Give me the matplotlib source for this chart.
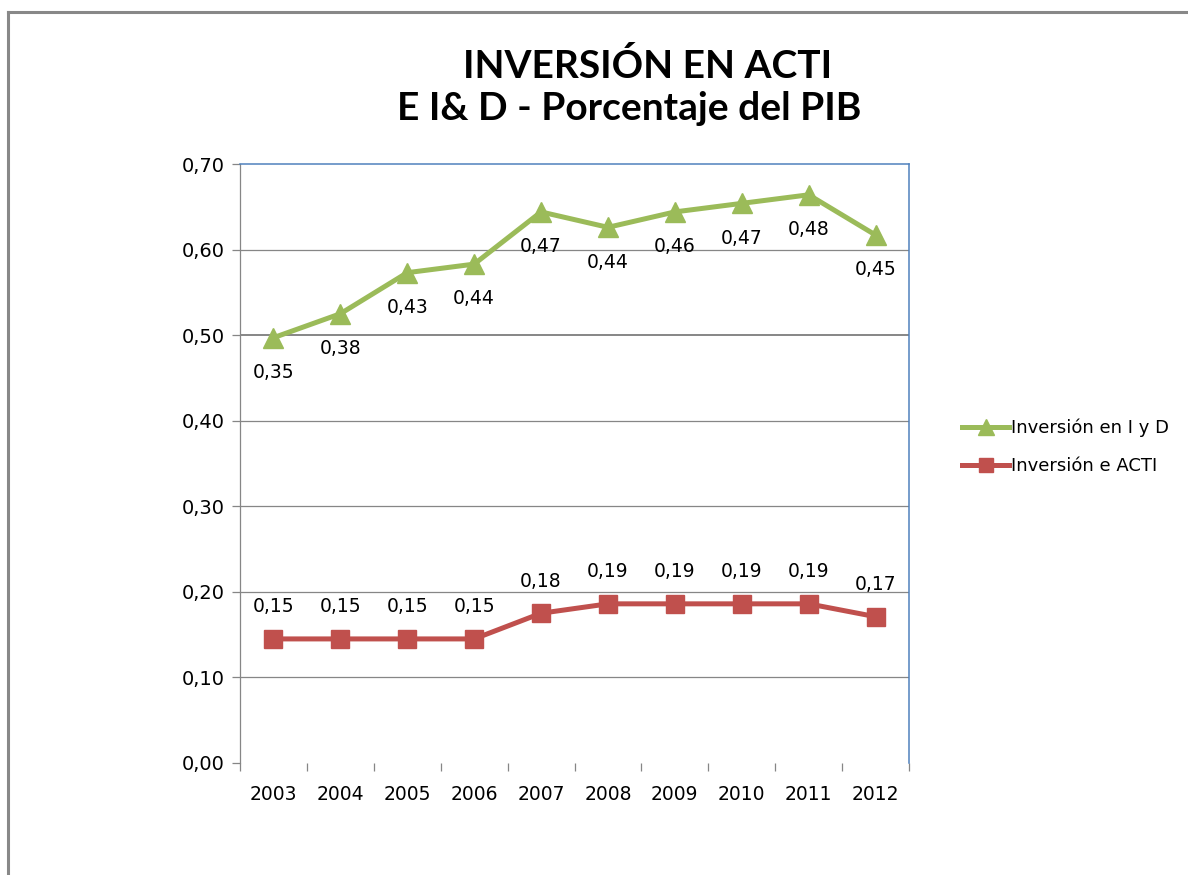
import matplotlib.pyplot as plt
from matplotlib.lines import Line2D

years = ["2003", "2004", "2005", "2006", "2007", "2008", "2009", "2010", "2011", "2012"]

# plotted positions (as drawn in the original)
id_vals = [0.497, 0.525, 0.573, 0.583, 0.644, 0.626, 0.644, 0.654, 0.664, 0.617]
acti_vals = [0.145, 0.145, 0.145, 0.145, 0.175, 0.186, 0.186, 0.186, 0.186, 0.171]

# data labels as printed in the original
id_labels = [0.35, 0.38, 0.43, 0.44, 0.47, 0.44, 0.46, 0.47, 0.48, 0.45]
acti_labels = [0.15, 0.15, 0.15, 0.15, 0.18, 0.19, 0.19, 0.19, 0.19, 0.17]

yticks = [0.0, 0.1, 0.2, 0.3, 0.4, 0.5, 0.6, 0.7]

green = "#9BBB59"
red = "#C0504D"
grid_c = "#868686"
blue = "#4F81BD"

plt.rcParams["font.family"] = ["DejaVu Sans"]

fig = plt.figure(figsize=(11.88, 8.75), dpi=100)
W, H = 1188, 875
ax = fig.add_axes([240 / W, 1 - 763 / H, (909 - 240) / W, (763 - 164) / H])

x = list(range(len(years)))

for v in yticks[1:-1]:
    ax.axhline(v, color=grid_c, lw=1.4 if v == 0.5 else 0.9, zorder=1)

ax.plot(x, id_vals, color=green, lw=3.6, marker="^", markersize=14,
        label="Inversión en I y D", zorder=3)
ax.plot(x, acti_vals, color=red, lw=3.6, marker="s", markersize=12.5,
        label="Inversión e ACTI", zorder=3)

for xi, yv, lab in zip(x, id_vals, id_labels):
    ax.annotate(f"{lab:.2f}".replace(".", ","), (xi, yv), xytext=(0, -25),
                textcoords="offset points", ha="center", va="center", fontsize=13.5)
for xi, yv, lab in zip(x, acti_vals, acti_labels):
    ax.annotate(f"{lab:.2f}".replace(".", ","), (xi, yv), xytext=(0, 23),
                textcoords="offset points", ha="center", va="center", fontsize=13.5)

ax.set_xlim(-0.5, len(years) - 0.5)
ax.set_ylim(0, 0.7)
ax.set_yticks(yticks)
ax.set_yticklabels([f"{v:.2f}".replace(".", ",") for v in yticks])
ax.set_xticks(x)
ax.set_xticklabels(years)
ax.set_xticks([i - 0.5 for i in range(len(years) + 1)], minor=True)
ax.tick_params(axis="x", which="major", length=0, pad=16, labelsize=13.5)
ax.tick_params(axis="x", which="minor", length=6, width=0.9, color=grid_c)
ax.tick_params(axis="y", length=6, width=0.9, color=grid_c, pad=5, labelsize=14)

ax.spines["bottom"].set_visible(False)
ax.spines["left"].set_color(grid_c)
ax.spines["left"].set_linewidth(0.9)
ax.spines["top"].set_color(blue)
ax.spines["right"].set_color(blue)
ax.spines["top"].set_linewidth(1.1)
ax.spines["right"].set_linewidth(1.1)

fig.text(648 / W, 1 - 66 / H, "INVERSIÓN EN ACTI", ha="center", va="center",
         fontsize=28, fontweight="bold", family="Lato")
fig.text(629 / W, 1 - 108 / H, "E I& D - Porcentaje del PIB", ha="center", va="center",
         fontsize=28, fontweight="bold", family="Lato")

fig.legend(loc="center left", bbox_to_anchor=(946 / W, 1 - 447 / H), frameon=False,
           fontsize=13, handlelength=2.6, handletextpad=0.1, labelspacing=1.1,
           markerscale=0.85)

# outer chart frame (top and left edges visible)
fig.add_artist(Line2D([8 / W, 1], [1 - 12 / H, 1 - 12 / H], color="#888888", lw=2.2,
                      transform=fig.transFigure))
fig.add_artist(Line2D([8 / W, 8 / W], [0, 1 - 12 / H], color="#888888", lw=2.2,
                      transform=fig.transFigure))

fig.savefig("out.png", dpi=100)
